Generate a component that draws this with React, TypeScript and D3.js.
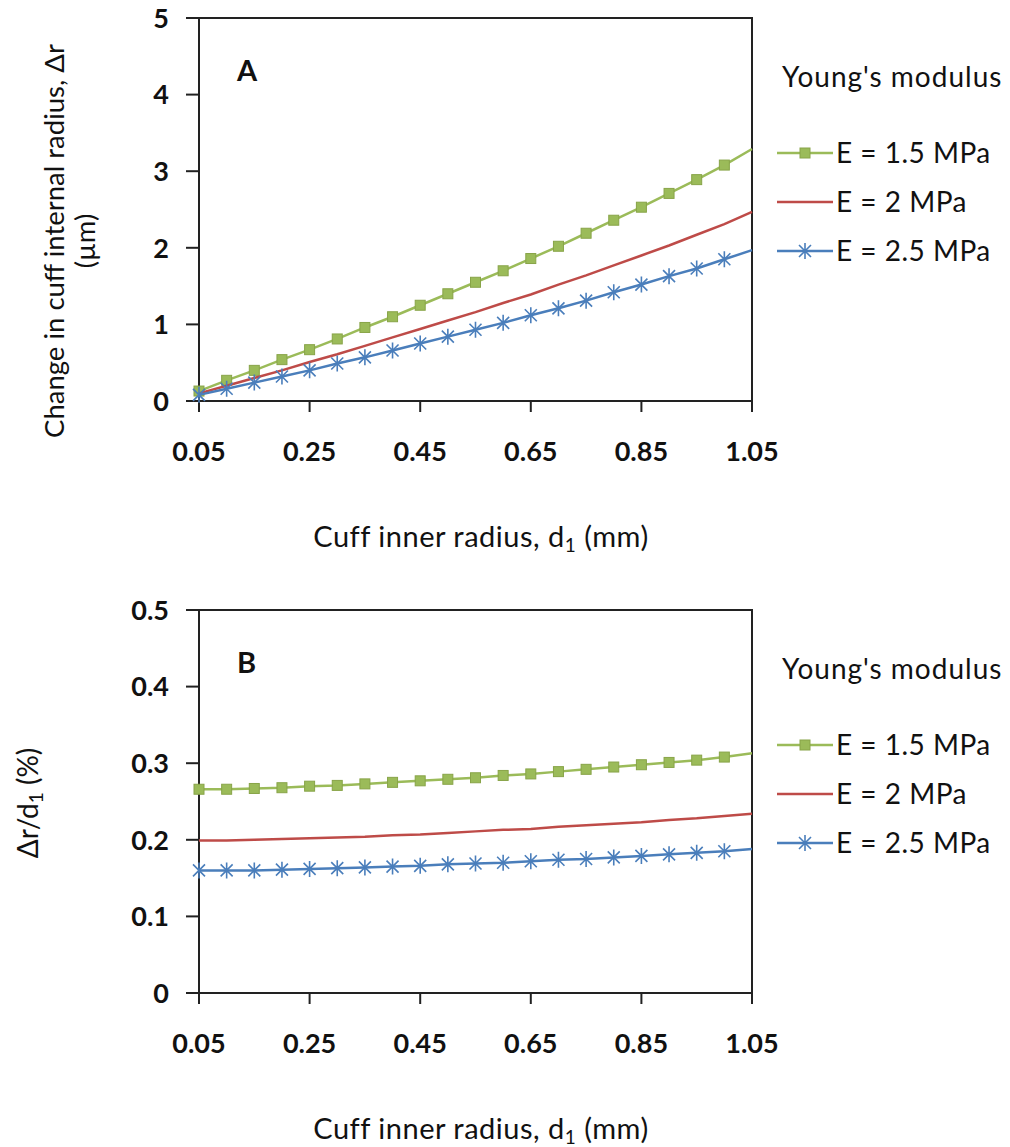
import React from "react";
import * as d3 from "d3";

// cuff inner radius d1 (mm)
const radius = [
  0.05, 0.1, 0.15, 0.2, 0.25, 0.3, 0.35, 0.4, 0.45, 0.5, 0.55, 0.6, 0.65, 0.7,
  0.75, 0.8, 0.85, 0.9, 0.95, 1.0, 1.05,
];

// panel A: change in cuff internal radius (um)
const drE15 = [
  0.13, 0.27, 0.4, 0.54, 0.67, 0.81, 0.96, 1.1, 1.25, 1.4, 1.55, 1.7, 1.86,
  2.02, 2.19, 2.36, 2.53, 2.71, 2.89, 3.08, 3.29,
];
const drE2 = [
  0.1, 0.2, 0.3, 0.4, 0.51, 0.61, 0.72, 0.83, 0.94, 1.05, 1.16, 1.28, 1.39,
  1.52, 1.64, 1.77, 1.9, 2.03, 2.17, 2.31, 2.47,
];
const drE25 = [
  0.08, 0.16, 0.24, 0.32, 0.4, 0.49, 0.57, 0.66, 0.75, 0.84, 0.93, 1.02, 1.12,
  1.21, 1.31, 1.42, 1.52, 1.63, 1.73, 1.85, 1.97,
];

// panel B: dr/d1 (%)
const ratioE15 = [
  0.266, 0.266, 0.267, 0.268, 0.27, 0.271, 0.273, 0.275, 0.277, 0.279, 0.281,
  0.284, 0.286, 0.289, 0.292, 0.295, 0.298, 0.301, 0.304, 0.308, 0.313,
];
const ratioE2 = [
  0.199, 0.199, 0.2, 0.201, 0.202, 0.203, 0.204, 0.206, 0.207, 0.209, 0.211,
  0.213, 0.214, 0.217, 0.219, 0.221, 0.223, 0.226, 0.228, 0.231, 0.234,
];
const ratioE25 = [
  0.16, 0.16, 0.16, 0.161, 0.162, 0.163, 0.164, 0.165, 0.166, 0.168, 0.169,
  0.17, 0.172, 0.174, 0.175, 0.177, 0.179, 0.181, 0.183, 0.185, 0.188,
];

const seriesNames = ["E = 1.5 MPa", "E = 2 MPa", "E = 2.5 MPa"];
const seriesColors = ["#9BBB59", "#BE4B48", "#4A7EBB"];
const seriesMarkers = ["square", "none", "star"];

const xTicks = [0.05, 0.25, 0.45, 0.65, 0.85, 1.05];
const yTicksA = [0, 1, 2, 3, 4, 5];
const yTicksB = [0, 0.1, 0.2, 0.3, 0.4, 0.5];

const FONT = "Lato, 'Open Sans', sans-serif";

const Marker = ({ kind, x, y, color }: any) => {
  if (kind === "square")
    return (
      <rect x={x - 5} y={y - 5} width={10} height={10} fill={color} stroke="#88A448" strokeWidth={1} />
    );
  if (kind === "star") {
    const r = 6;
    const p = `M${x - r},${y - r}L${x + r},${y + r}M${x - r},${y + r}L${x + r},${y - r}M${x},${y - r - 2}L${x},${y + r + 2}`;
    return <path d={p} stroke={color} strokeWidth={1.6} fill="none" />;
  }
  return null;
};

const Panel = ({ top, bottom, yMax, yTicks, letter, series, yTitle, yTitlePos }: any) => {
  const left = 199;
  const right = 752;
  const x = d3.scaleLinear().domain([0.05, 1.05]).range([left, right]);
  const y = d3.scaleLinear().domain([0, yMax]).range([bottom, top]);
  const line = d3
    .line<number>()
    .x((_, i) => x(radius[i]))
    .y((d) => y(d));
  const legendX0 = 777;
  const legendX1 = 833;

  return (
    <g fontFamily={FONT} fill="#111">
      {/* plot frame */}
      <rect x={left} y={top} width={right - left} height={bottom - top} fill="none" stroke="#222" strokeWidth={2} />
      {yTicks.map((t: number) => (
        <g key={"y" + t}>
          <line x1={left - 13} x2={left} y1={y(t)} y2={y(t)} stroke="#222" strokeWidth={2} />
          <text x={169} y={y(t)} dy="0.36em" textAnchor="end" fontSize={27} fontWeight="bold">
            {t === 0 ? "0" : String(t)}
          </text>
        </g>
      ))}
      {xTicks.map((t) => (
        <g key={"x" + t}>
          <line x1={x(t)} x2={x(t)} y1={bottom} y2={bottom + 11} stroke="#222" strokeWidth={2} />
          <text x={x(t)} y={bottom + 60} textAnchor="middle" fontSize={27} fontWeight="bold">
            {t.toFixed(2)}
          </text>
        </g>
      ))}
      {series.map((vals: number[], si: number) => (
        <g key={"s" + si}>
          <path d={line(vals) || ""} fill="none" stroke={seriesColors[si]} strokeWidth={2.5} />
          {vals.map((v, i) =>
            radius[i] < 1.04 ? (
              <Marker key={i} kind={seriesMarkers[si]} x={x(radius[i])} y={y(v)} color={seriesColors[si]} />
            ) : null
          )}
        </g>
      ))}
      <text x={237} y={top + 63} fontSize={29} fontWeight="bold">
        {letter}
      </text>
      {/* axis titles */}
      <text x={481} y={bottom + 146} textAnchor="middle" fontSize={29} letterSpacing={0.5}>
        Cuff inner radius, d<tspan fontSize={19} dy={5}>1</tspan>
        <tspan dy={-5}> (mm)</tspan>
      </text>
      <g transform={`translate(${yTitlePos[0]},${yTitlePos[1]}) rotate(-90)`}>{yTitle}</g>
      {/* legend */}
      <text x={782} y={top + 69} fontSize={28} letterSpacing={1}>
        Young's modulus
      </text>
      {seriesNames.map((name, si) => {
        const ly = top + 135 + si * 49;
        const mid = (legendX0 + legendX1) / 2;
        return (
          <g key={"l" + si}>
            <line x1={legendX0} x2={legendX1} y1={ly} y2={ly} stroke={seriesColors[si]} strokeWidth={2.5} />
            <Marker kind={seriesMarkers[si]} x={mid} y={ly} color={seriesColors[si]} />
            <text x={836} y={ly} dy="0.36em" fontSize={28} letterSpacing={0.5}>
              {name}
            </text>
          </g>
        );
      })}
    </g>
  );
};

const App = () => {
  return (
    <svg
      width={1010}
      height={1147}
      viewBox="0 0 1010 1147"
      style={{ position: "absolute", left: 0, top: 0, background: "#fff" }}
    >
      <rect width={1010} height={1147} fill="#fff" />
      <Panel
        top={18}
        bottom={401}
        yMax={5}
        yTicks={yTicksA}
        letter="A"
        series={[drE15, drE2, drE25]}
        yTitlePos={[64, 241]}
        yTitle={
          <text textAnchor="middle" fontSize={27.5} fontFamily={FONT} fill="#111">
            <tspan x={0} y={0}>Change in cuff internal radius, Δr</tspan>
            <tspan x={0} y={31}>(µm)</tspan>
          </text>
        }
      />
      <Panel
        top={610}
        bottom={993}
        yMax={0.5}
        yTicks={yTicksB}
        letter="B"
        series={[ratioE15, ratioE2, ratioE25]}
        yTitlePos={[38, 803]}
        yTitle={
          <text textAnchor="middle" fontSize={28} fontFamily={FONT} fill="#111">
            Δr/d<tspan fontSize={19} dy={5}>1</tspan>
            <tspan dy={-5}> (%)</tspan>
          </text>
        }
      />
    </svg>
  );
};

export default App;
